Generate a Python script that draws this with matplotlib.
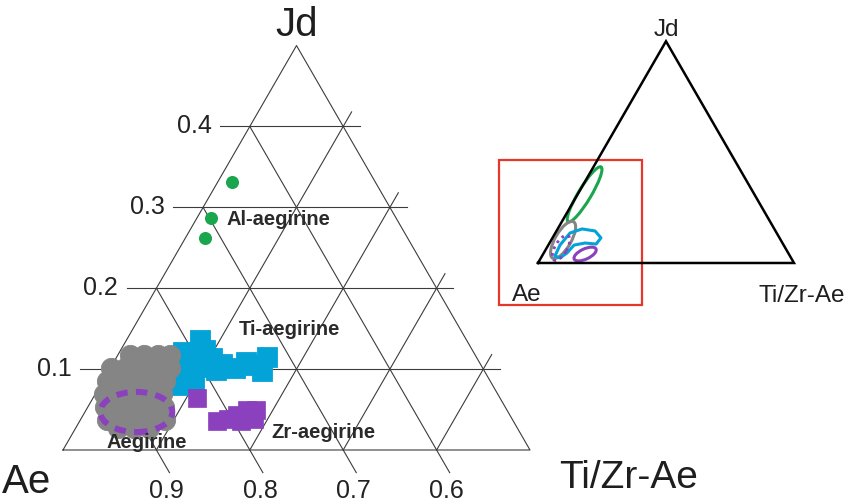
import numpy as np
import matplotlib.pyplot as plt
from matplotlib.patches import Ellipse, Polygon, Rectangle

plt.rcParams["font.family"] = ["Liberation Sans", "DejaVu Sans"]

# compositions as (Jd, Ti/Zr-Ae) fractions; Ae = 1 - Jd - TiZr
al_jd = [0.331, 0.287, 0.262]
al_tz = [0.015, 0.015, 0.021]

ti_jd = [0.136, 0.124, 0.117, 0.121, 0.096, 0.085, 0.080, 0.114, 0.103,
         0.106, 0.099, 0.101, 0.109, 0.105, 0.115, 0.098]
ti_tz = [0.079, 0.090, 0.077, 0.068, 0.084, 0.098, 0.085, 0.103, 0.099,
         0.117, 0.114, 0.134, 0.141, 0.153, 0.161, 0.164]

zr_jd = [0.064, 0.036, 0.038, 0.043, 0.049, 0.049, 0.038, 0.036]
zr_tz = [0.111, 0.147, 0.158, 0.165, 0.172, 0.182, 0.185, 0.173]

aeg_jd = [0.117, 0.117, 0.117, 0.117,
          0.101, 0.101, 0.101, 0.101, 0.101,
          0.085, 0.085, 0.085, 0.085, 0.085,
          0.069, 0.069, 0.069, 0.069, 0.069,
          0.053, 0.053, 0.053, 0.053, 0.053,
          0.037, 0.037, 0.037, 0.037, 0.037,
          0.027, 0.027, 0.027]
aeg_tz = [0.013, 0.028, 0.043, 0.056,
          0.001, 0.016, 0.033, 0.049, 0.064,
          0.005, 0.020, 0.036, 0.052, 0.067,
          0.009, 0.024, 0.040, 0.056, 0.071,
          0.019, 0.035, 0.051, 0.067, 0.082,
          0.029, 0.045, 0.061, 0.077, 0.091,
          0.045, 0.062, 0.079]

grid_vals = [0.1, 0.2, 0.3, 0.4]
jd_ticks = ["0.1", "0.2", "0.3", "0.4"]
ae_ticks = ["0.9", "0.8", "0.7", "0.6"]

GREEN = "#19a64c"
BLUE = "#03a3d8"
GRAY = "#858585"
PURPLE = "#8b40bd"
LINE = "#3c3c3c"
S3 = np.sqrt(3) / 2


def to_xy(jd, tz):
    jd = np.asarray(jd, dtype=float)
    tz = np.asarray(tz, dtype=float)
    return tz + jd / 2, jd * S3


fig = plt.figure(figsize=(8.51, 5.04), dpi=100)
ax = fig.add_axes([0, 0, 1, 1])
ax.set_xlim(-0.06745, 0.84368)
ax.set_ylim(-0.05782, 0.48180)
ax.axis("off")

# outer triangle: Ae corner, Jd = 0.5 apex, TiZr = 0.5 corner
tri = np.array([to_xy(0, 0), to_xy(0.5, 0), to_xy(0, 0.5), to_xy(0, 0)])
ax.plot(tri[:, 0], tri[:, 1], color=LINE, lw=0.8, zorder=1)

up = np.array([0.5, S3])
down = np.array([0.5, -S3])
for v, jl, al in zip(grid_vals, jd_ticks, ae_ticks):
    # constant Jd, overshooting both sides
    x0, y0 = to_xy(v, 0)
    x1, y1 = to_xy(v, 0.5 - v)
    ax.plot([x0 - 0.032, x1 + 0.018], [y0, y1], color=LINE, lw=0.8, zorder=1)
    ax.text(x0 - 0.041, y0, jl, ha="right", va="center", fontsize=18,
            color="#222222")
    # constant Ae, running past the base
    b = np.array(to_xy(0, v))
    e = b + down * 0.028
    ax.plot([x0, e[0]], [y0, e[1]], color=LINE, lw=0.8, zorder=1)
    ax.text(b[0] + 0.011, -0.044, al, ha="center", va="center", fontsize=18,
            color="#222222")
    # constant TiZr, running past the right side
    t = np.array(to_xy(0.5 - v, v)) + up * 0.018
    ax.plot([b[0], t[0]], [b[1], t[1]], color=LINE, lw=0.8, zorder=1)

ax.text(0.2505, 0.455, "Jd", ha="center", va="center", fontsize=29,
        color="#1e1e1e")
ax.text(-0.0385, -0.034, "Ae", ha="center", va="center", fontsize=29,
        color="#1e1e1e")
ax.text(0.605, -0.030, "Ti/Zr-Ae", ha="center", va="center", fontsize=28,
        color="#1e1e1e")

x, y = to_xy(ti_jd, ti_tz)
ax.plot(x, y, "s", ms=14.5, color=BLUE, mec=BLUE, mew=0.6, zorder=2)
x, y = to_xy(aeg_jd, aeg_tz)
ax.plot(x, y, "o", ms=14.6, color=GRAY, mec=GRAY, mew=0.6, zorder=3)
x, y = to_xy(zr_jd, zr_tz)
ax.plot(x, y, "s", ms=12.5, color=PURPLE, mec=PURPLE, mew=0.5, zorder=3)
x, y = to_xy(al_jd, al_tz)
ax.plot(x, y, "o", ms=9.4, color=GREEN, mec="none", zorder=3)

cx, cy = to_xy(0.047, 0.055)
ax.add_patch(Ellipse((cx, cy), 0.077, 0.043, fill=False, ec=PURPLE, lw=4.3,
                     ls=(0, (1.9, 1.4)), zorder=4))

lab = dict(ha="center", va="center", fontsize=14.5, fontweight="bold",
           color="#2a2a2a", zorder=5)
ax.text(0.2302, 0.2463, "Al-aegirine", **lab)
ax.text(0.2420, 0.1285, "Ti-aegirine", **lab)
ax.text(0.2784, 0.0182, "Zr-aegirine", **lab)
ax.text(0.0899, 0.0075, "Aegirine", **lab)

# overview of the whole diagram
ins = fig.add_axes([490 / 851, 184 / 504, 361 / 851, 320 / 504])
ins.set_xlim(-0.1875, 1.2227)
ins.set_ylim(-0.2227, 1.0273)
ins.axis("off")
ins.plot([0, 1, 0.5, 0], [0, 0, S3, 0], color="black", lw=1.8,
         solid_joinstyle="miter")
ins.add_patch(Rectangle((-0.152, -0.164), 0.558, 0.566, fill=False,
                        ec="#e6372b", lw=1.6))
ins.add_patch(Ellipse((0.182, 0.268), 0.25, 0.05, angle=59, fill=False,
                      ec=GREEN, lw=2.2))
ins.add_patch(Ellipse((0.098, 0.090), 0.164, 0.062, angle=60, fill=False,
                      ec=GRAY, lw=2.2))
blue_loop = [(0.066, 0.027), (0.086, 0.070), (0.125, 0.117), (0.172, 0.133),
             (0.223, 0.125), (0.246, 0.098), (0.227, 0.074), (0.184, 0.078),
             (0.141, 0.070), (0.113, 0.039), (0.086, 0.020)]
ins.add_patch(Polygon(blue_loop, closed=True, fill=False, ec=BLUE, lw=2.2,
                      joinstyle="round"))
ins.add_patch(Ellipse((0.090, 0.059), 0.11, 0.047, angle=60, fill=False,
                      ec=PURPLE, lw=2.0, ls=(0, (1, 1.5))))
ins.add_patch(Ellipse((0.184, 0.035), 0.094, 0.04, angle=25, fill=False,
                      ec=PURPLE, lw=2.2))
ins.text(0.5, 0.910, "Jd", ha="center", va="center", fontsize=17.5,
         color="#1e1e1e")
ins.text(-0.043, -0.125, "Ae", ha="center", va="center", fontsize=17.5,
         color="#1e1e1e")
ins.text(1.031, -0.129, "Ti/Zr-Ae", ha="center", va="center", fontsize=17.5,
         color="#1e1e1e")

fig.savefig("out.png", dpi=100)
